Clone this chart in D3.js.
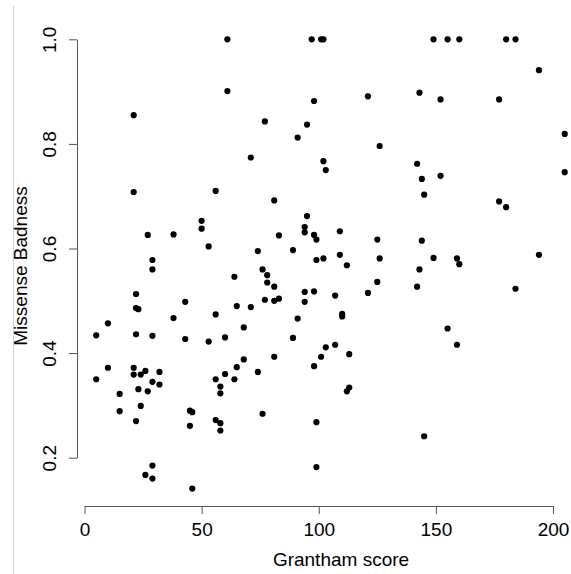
<!DOCTYPE html>
<html>
<head>
<meta charset="utf-8">
<title>Missense Badness vs Grantham score</title>
<script src="https://cdn.jsdelivr.net/npm/d3@7"></script>
<style>
    body { margin: 0; background: #fff; }
    text { font-family: "Liberation Sans", Arial, Helvetica, sans-serif; fill: #000; }
</style>
</head>
<body>
<script>

//grantham score of each substitution
var grantham = [61, 97, 101, 102, 149, 155, 160, 180, 184, 194,
    61, 121, 143, 98, 152, 177, 21, 77, 95, 205,
    91, 126, 71, 102, 142, 103, 205, 144, 152, 21,
    56, 145, 81, 177, 180, 95, 50, 50, 94, 94,
    27, 38, 98, 99, 109, 83, 125, 144, 53, 74,
    89, 29, 99, 102, 109, 126, 149, 159, 160, 194,
    29, 76, 112, 143, 64, 78, 78, 81, 125, 142,
    184, 94, 98, 22, 107, 121, 77, 81, 83, 43,
    94, 22, 23, 65, 71, 10, 38, 56, 68, 110,
    110, 91, 155, 5, 22, 29, 43, 53, 60, 89,
    107, 103, 159, 101, 113, 81, 68, 65, 98, 74,
    10, 21, 21, 24, 26, 32, 60, 64, 56, 5,
    29, 32, 58, 58, 113, 112, 15, 23, 27, 24,
    15, 45, 46, 76, 22, 45, 56, 58, 58, 99,
    145, 29, 26, 29, 46, 99];

//missense badness of each substitution
var badness = [1.0, 1.0, 1.0, 1.0, 1.0, 1.0, 1.0, 1.0, 1.0, 0.941,
    0.901, 0.891, 0.898, 0.882, 0.885, 0.885, 0.855, 0.843, 0.837, 0.819,
    0.812, 0.796, 0.774, 0.767, 0.762, 0.750, 0.746, 0.733, 0.739, 0.708,
    0.710, 0.703, 0.692, 0.690, 0.679, 0.662, 0.653, 0.638, 0.641, 0.631,
    0.626, 0.627, 0.626, 0.617, 0.633, 0.625, 0.617, 0.615, 0.604, 0.595,
    0.597, 0.578, 0.578, 0.581, 0.588, 0.581, 0.582, 0.581, 0.570, 0.588,
    0.560, 0.560, 0.568, 0.560, 0.546, 0.549, 0.535, 0.527, 0.536, 0.527,
    0.523, 0.517, 0.518, 0.513, 0.510, 0.515, 0.502, 0.500, 0.504, 0.498,
    0.498, 0.486, 0.484, 0.490, 0.488, 0.457, 0.467, 0.474, 0.449, 0.475,
    0.470, 0.466, 0.447, 0.434, 0.436, 0.433, 0.427, 0.422, 0.430, 0.429,
    0.416, 0.411, 0.416, 0.393, 0.398, 0.393, 0.388, 0.373, 0.375, 0.364,
    0.372, 0.372, 0.359, 0.359, 0.366, 0.364, 0.360, 0.350, 0.350, 0.350,
    0.345, 0.340, 0.336, 0.323, 0.334, 0.327, 0.322, 0.331, 0.327, 0.299,
    0.289, 0.290, 0.287, 0.284, 0.270, 0.261, 0.272, 0.266, 0.252, 0.268,
    0.241, 0.185, 0.167, 0.160, 0.141, 0.182];

//axis ticks
var xTicks = [0, 50, 100, 150, 200];
var yTicks = [0.2, 0.4, 0.6, 0.8, 1.0];

var points = grantham.map(function(g, i){
    return {x: g, y: badness[i]};
});

//frame dimensions
var width = 571,
    height = 574;

var svg = d3.select("body")
    .append("svg")
    .attr("width", width)
    .attr("height", height);

//thin frame line on the left edge
svg.append("line")
    .attr("x1", 13.5).attr("x2", 13.5)
    .attr("y1", 6).attr("y2", height)
    .attr("stroke", "#d0d0d0")
    .attr("stroke-width", 1);

var x = d3.scaleLinear()
    .domain([0, 200])
    .range([84.5, 553]);

var y = d3.scaleLinear()
    .domain([0.2, 1.0])
    .range([457.7, 39.3]);

//x axis, detached below the points
var xAxis = svg.append("g")
    .attr("transform", "translate(0,506)")
    .call(d3.axisBottom(x).tickValues(xTicks).tickSize(8).tickSizeOuter(0));

xAxis.selectAll("text")
    .attr("y", 30)
    .attr("dy", 0)
    .style("font-size", "19px");

//y axis with rotated labels
var yAxis = svg.append("g")
    .attr("transform", "translate(77,0)")
    .call(d3.axisLeft(y).tickValues(yTicks).tickSize(8).tickSizeOuter(0)
        .tickFormat(d3.format(".1f")));

yAxis.selectAll("text")
    .attr("x", null)
    .attr("dy", 0)
    .attr("text-anchor", "middle")
    .attr("transform", "translate(-21,0) rotate(-90)")
    .style("font-size", "19px");

svg.selectAll(".domain, .tick line")
    .attr("stroke", "#555")
    .attr("stroke-width", 1);

svg.selectAll(".tick text").attr("fill", "#000");

//axis titles
svg.append("text")
    .attr("x", 341)
    .attr("y", 566)
    .attr("text-anchor", "middle")
    .style("font-size", "19px")
    .text("Grantham score");

svg.append("text")
    .attr("transform", "translate(27,266) rotate(-90)")
    .attr("text-anchor", "middle")
    .style("font-size", "19px")
    .text("Missense Badness");

//points
svg.selectAll(".dot")
    .data(points)
    .enter()
    .append("circle")
    .attr("class", "dot")
    .attr("cx", function(d){ return x(d.x); })
    .attr("cy", function(d){ return y(d.y); })
    .attr("r", 3.1)
    .attr("fill", "#000");

</script>
</body>
</html>
